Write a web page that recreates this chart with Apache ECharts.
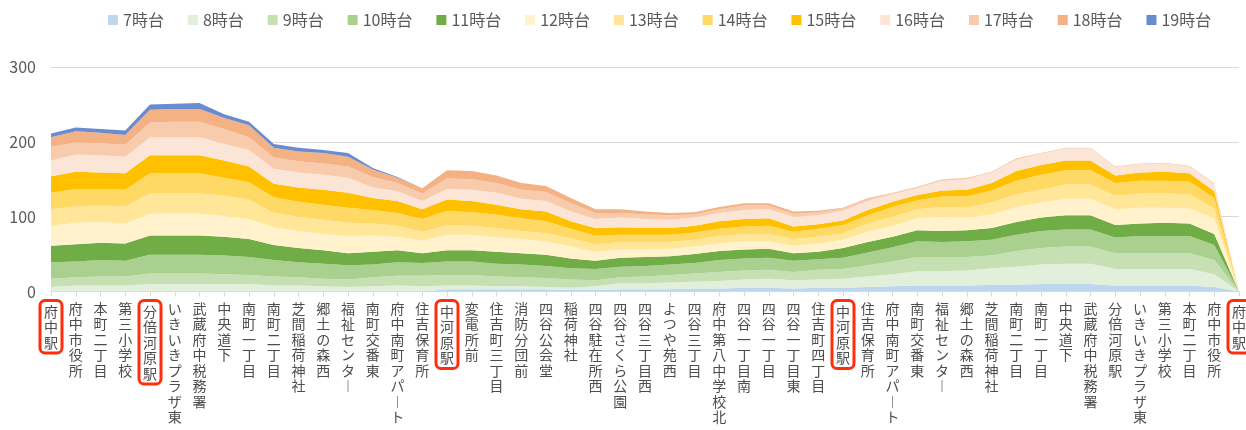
<!DOCTYPE html>
<html>
<head>
<meta charset="utf-8">
<script src="https://cdn.jsdelivr.net/npm/echarts@6.0.0/dist/echarts.min.js"></script>
<style>
html, body { margin: 0; padding: 0; background: #fff; }
#chart { width: 1246px; height: 430px; }
</style>
</head>
<body>
<div id="chart"></div>
<script>
// 停留所（府中駅 → 中河原駅 → 四谷 → 中河原駅 → 府中駅）
const stops = ['府中駅', '府中市役所', '本町二丁目', '第三小学校', '分倍河原駅', 'いきいきプラザ東', '武蔵府中税務署', '中央道下',
  '南町一丁目', '南町二丁目', '芝間稲荷神社', '郷土の森西', '福祉センター', '南町交番東', '府中南町アパート', '住吉保育所',
  '中河原駅', '変電所前', '住吉町三丁目', '消防分団前', '四谷公会堂', '稲荷神社', '四谷駐在所西', '四谷さくら公園',
  '四谷三丁目西', 'よつや苑西', '四谷三丁目', '府中第八中学校北', '四谷一丁目南', '四谷一丁目', '四谷一丁目東', '住吉町四丁目',
  '中河原駅', '住吉保育所', '府中南町アパート', '南町交番東', '福祉センター', '郷土の森西', '芝間稲荷神社', '南町二丁目',
  '南町一丁目', '中央道下', '武蔵府中税務署', '分倍河原駅', 'いきいきプラザ東', '第三小学校', '本町二丁目', '府中市役所', '府中駅'];
// 赤枠の停留所
const boxed = [0, 4, 16, 32, 48];

const hours = ['7時台', '8時台', '9時台', '10時台', '11時台', '12時台', '13時台', '14時台', '15時台', '16時台', '17時台', '18時台', '19時台'];

const h7 = [0, 0, 0, 0, 0, 0, 0, 0, 0, 0, 0, 0, 0, 0, 0, 0, 3, 3, 3, 3, 3, 2, 2, 3, 3, 3, 4, 4, 5, 5, 4, 5, 5, 6, 7, 8, 8, 8, 9, 9, 10, 10, 10, 8, 8, 8, 8, 6, 0];
const h8 = [6, 8, 8, 8, 10, 10, 10, 10, 10, 8, 8, 7, 6, 7, 8, 7, 5, 5, 4, 4, 3, 3, 5, 8, 8, 9, 9, 10, 11, 12, 11, 11, 12, 14, 16, 19, 19, 20, 22, 24, 26, 27, 27, 22, 22, 22, 22, 17, 0];
const h9 = [11, 11, 12, 12, 14, 14, 14, 13, 12, 12, 11, 10, 10, 12, 13, 14, 14, 14, 13, 12, 12, 11, 8, 8, 9, 10, 11, 12, 12, 12, 11, 13, 13, 15, 17, 19, 19, 18, 17, 21, 22, 23, 23, 21, 21, 21, 21, 19, 0];
const h10 = [22, 21, 22, 21, 25, 25, 25, 25, 24, 22, 20, 20, 19, 17, 18, 17, 18, 18, 17, 17, 16, 15, 15, 14, 14, 14, 14, 16, 16, 16, 15, 14, 15, 17, 19, 21, 20, 21, 21, 22, 23, 23, 23, 21, 23, 23, 23, 20, 0];
const h11 = [22, 23, 23, 23, 26, 26, 26, 25, 24, 20, 19, 18, 16, 17, 16, 13, 15, 15, 16, 15, 15, 13, 11, 12, 12, 11, 12, 12, 12, 12, 10, 10, 13, 14, 14, 15, 15, 15, 16, 17, 18, 19, 19, 17, 17, 18, 17, 15, 0];
const h12 = [27, 29, 28, 27, 29, 29, 29, 28, 27, 24, 23, 22, 23, 22, 18, 17, 21, 21, 19, 19, 18, 16, 12, 11, 10, 10, 10, 10, 11, 10, 10, 11, 11, 14, 15, 16, 19, 17, 18, 20, 20, 22, 22, 21, 21, 20, 20, 21, 0];
const h13 = [22, 22, 22, 23, 27, 27, 27, 27, 26, 19, 19, 19, 18, 16, 15, 12, 13, 12, 13, 11, 11, 11, 10, 10, 10, 9, 9, 10, 10, 10, 9, 9, 9, 11, 12, 12, 13, 13, 16, 17, 17, 19, 19, 18, 19, 19, 19, 13, 0];
const h14 = [22, 23, 22, 22, 27, 27, 27, 24, 23, 21, 20, 20, 20, 18, 17, 17, 19, 18, 18, 17, 16, 13, 12, 10, 10, 10, 10, 10, 10, 11, 10, 11, 11, 11, 13, 12, 14, 15, 16, 18, 20, 19, 19, 17, 17, 17, 17, 14, 0];
const h15 = [22, 23, 22, 22, 24, 24, 24, 23, 21, 18, 19, 20, 20, 16, 16, 13, 15, 15, 13, 12, 13, 10, 10, 10, 9, 9, 9, 10, 10, 10, 7, 6, 6, 7, 7, 7, 8, 9, 10, 13, 13, 13, 13, 10, 11, 12, 11, 9, 0];
const h16 = [21, 23, 23, 22, 24, 24, 24, 22, 22, 20, 20, 20, 20, 14, 13, 11, 14, 15, 16, 14, 14, 13, 12, 13, 12, 11, 11, 11, 12, 12, 13, 12, 13, 12, 10, 9, 13, 14, 14, 15, 15, 16, 16, 11, 11, 11, 9, 10, 0];
const h17 = [18, 16, 16, 16, 20, 21, 21, 20, 17, 15, 15, 15, 15, 14, 11, 10, 14, 14, 13, 12, 12, 11, 8, 6, 6, 6, 4, 5, 6, 5, 4, 4, 3, 3, 2, 2, 2, 2, 1, 2, 1, 1, 1, 1, 1, 1, 1, 1, 0];
const h18 = [13, 15, 14, 13, 17, 17, 17, 15, 16, 13, 13, 14, 13, 10, 7, 7, 11, 11, 10, 9, 8, 7, 5, 5, 4, 3, 3, 3, 3, 3, 3, 2, 1, 1, 0, 0, 0, 0, 0, 0, 0, 0, 0, 0, 0, 0, 0, 0, 0];
const h19 = [5, 5, 5, 6, 7, 7, 8, 5, 5, 5, 5, 4, 5, 2, 1, 0, 0, 0, 0, 0, 0, 0, 0, 0, 0, 0, 0, 0, 0, 0, 0, 0, 0, 0, 0, 0, 0, 0, 0, 0, 0, 0, 0, 0, 0, 0, 0, 0, 0];

const yTicks = [0, 100, 200, 300];

const hourData = [h7, h8, h9, h10, h11, h12, h13, h14, h15, h16, h17, h18, h19];
const colors = ['#BDD7EE', '#E2EFDA', '#C6E0B4', '#A9D08E', '#70AD47', '#FFF2CC', '#FFE699', '#FFD966', '#FFC000',
  '#FBE5D6', '#F8CBAD', '#F4B183', '#6A8CCF'];

const font = '"Noto Sans CJK JP", "Noto Sans", sans-serif';
const boxStyle = { borderColor: '#FF2D0A', borderWidth: 3, borderRadius: 5, padding: [3, 4, 3, 4] };

const myChart = echarts.init(document.getElementById('chart'));
const option = {
  animation: false,
  textStyle: { fontFamily: font },
  legend: {
    data: hours,
    left: 103,
    top: 7,
    icon: 'rect',
    itemWidth: 10,
    itemHeight: 10,
    itemGap: 24,
    textStyle: { color: '#595959', fontSize: 16, fontFamily: font }
  },
  grid: { left: 51, right: 7, top: 67, bottom: 138.5, containLabel: false, outerBoundsMode: 'none' },
  xAxis: {
    type: 'category',
    boundaryGap: false,
    data: stops.map((s, i) => boxed.includes(i) ? { value: s, textStyle: boxStyle } : s),
    axisLine: { lineStyle: { color: '#d9d9d9', width: 1 } },
    axisTick: { show: true, interval: 0, length: 5, lineStyle: { color: '#d9d9d9' } },
    axisLabel: {
      interval: 0,
      margin: 9,
      color: '#4d4d4d',
      fontSize: 14,
      lineHeight: 15.5,
      fontFamily: font,
      // 縦書き風に1文字ずつ改行
      formatter: v => v.replace(/ー/g, '︱').split('').join('\n')
    }
  },
  yAxis: {
    type: 'value',
    min: yTicks[0],
    max: yTicks[yTicks.length - 1],
    interval: yTicks[1] - yTicks[0],
    axisLine: { show: false },
    axisTick: { show: false },
    axisLabel: { color: '#595959', fontSize: 16, margin: 15, fontFamily: font },
    splitLine: { lineStyle: { color: '#d9d9d9', width: 1 } }
  },
  series: hours.map((name, k) => ({
    name: name,
    type: 'line',
    stack: 'total',
    data: hourData[k],
    symbol: 'none',
    lineStyle: { width: 0 },
    itemStyle: { color: colors[k] },
    areaStyle: { color: colors[k], opacity: 1 },
    emphasis: { disabled: true }
  }))
};
myChart.setOption(option);
</script>
</body>
</html>
